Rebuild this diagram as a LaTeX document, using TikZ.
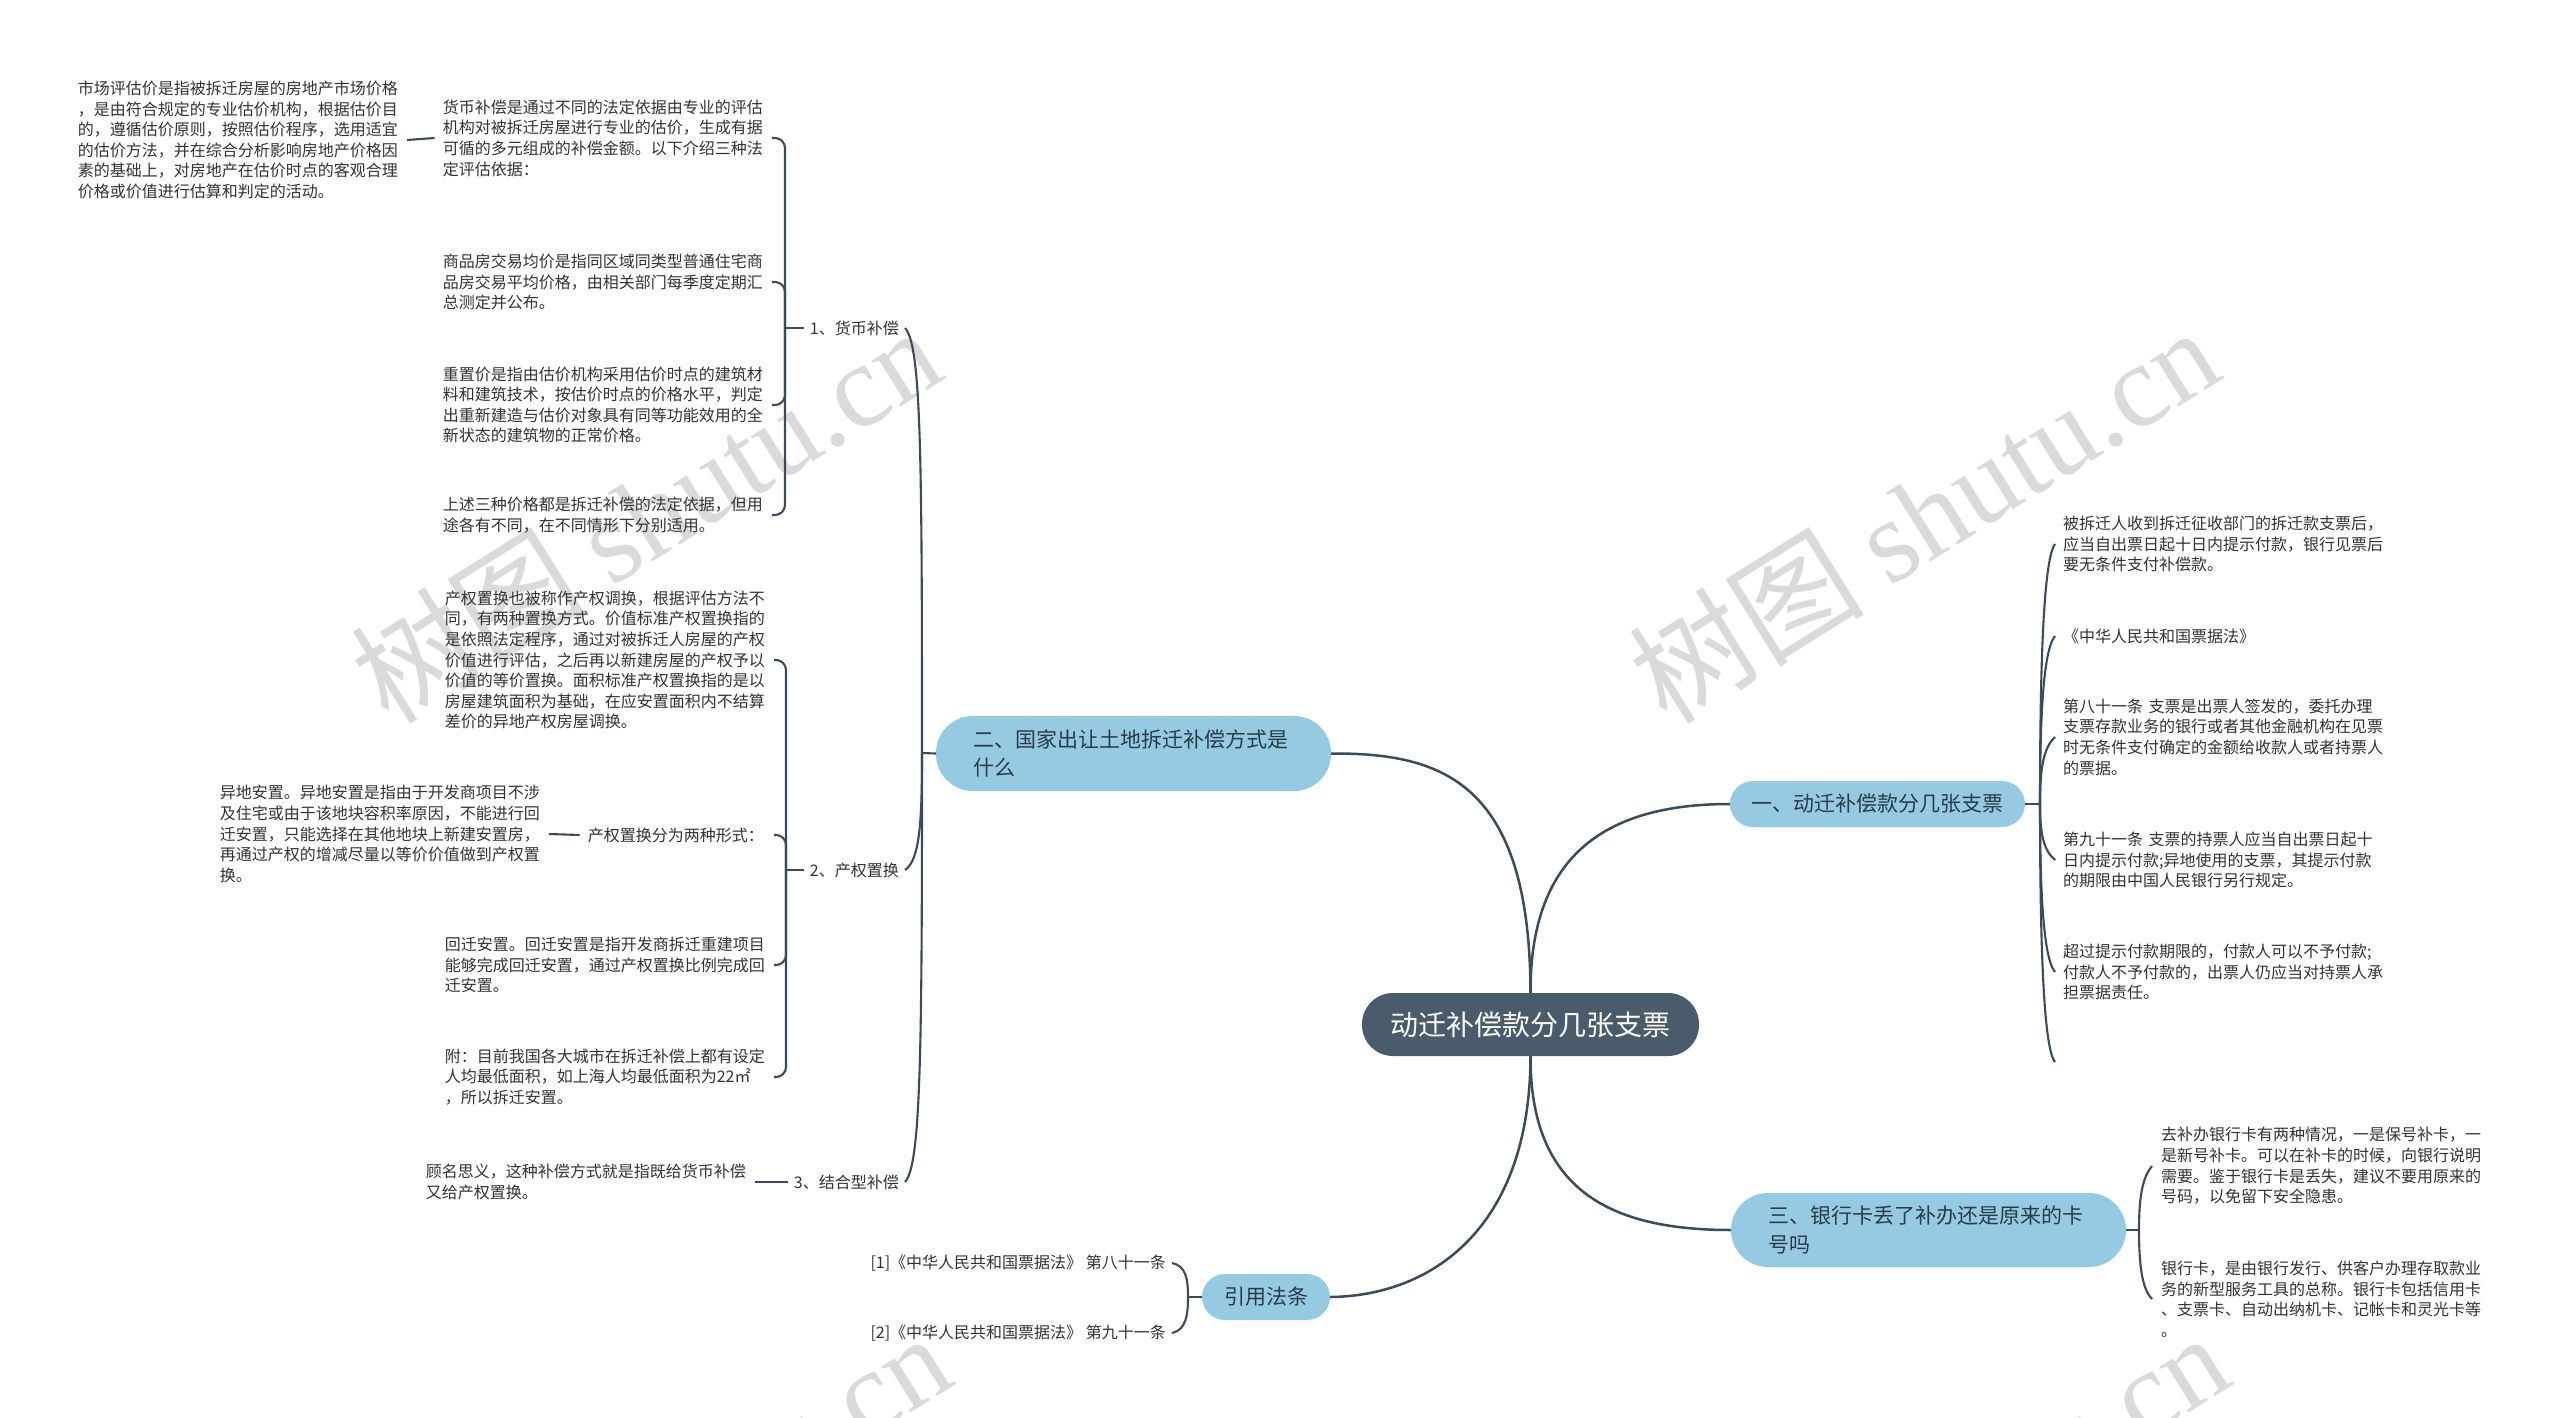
\documentclass[tikz,border=0pt]{standalone}
\usepackage{fontspec}
\setmainfont{Noto Sans CJK SC}
\newfontfamily\wmserif{Liberation Serif}
\definecolor{lineC}{HTML}{3B4B5A}
\definecolor{centerC}{HTML}{4A5B6B}
\definecolor{blueC}{HTML}{96CAE2}
\definecolor{txtC}{HTML}{333333}
\definecolor{topicTxt}{HTML}{2B3A48}
\definecolor{wmC}{HTML}{DADADA}
\begin{document}
\begin{tikzpicture}[x=1pt,y=-1pt,
  conn/.style={draw=lineC,line width=2.1pt},
  mainconn/.style={draw=lineC,line width=2.5pt},
  leafL/.style={anchor=east,inner xsep=8pt,inner ysep=2pt,align=left,text width=#1,text=txtC,font=\fontsize{16}{20.6}\selectfont},
  leafL/.default=321pt,
  leafR/.style={anchor=west,inner xsep=8pt,inner ysep=2pt,align=left,text width=340pt,text=txtC,font=\fontsize{16}{20.6}\selectfont},
  lbl/.style={anchor=east,inner xsep=6pt,text=txtC,font=\fontsize{16}{20.6}\selectfont},
  topic/.style={fill=blueC,rounded corners=#1,text=topicTxt,font=\fontsize{21}{28.3}\selectfont,inner sep=0pt},
  wm/.style={text=wmC,font=\fontsize{118}{118}\selectfont,inner sep=0pt},
]
\useasboundingbox (0,0) rectangle (2560,1418);
\fill[white] (0,0) rectangle (2560,1418);

% watermarks
\begin{scope}
\clip (0,0) rectangle (2560,1418);
\node[wm,rotate=32] (w1) at (645,514) {树图 {\wmserif shutu.cn}};
\node[wm,rotate=32] (w2) at (1923,514) {树图 {\wmserif shutu.cn}};
\node[wm,rotate=32] (w3) at (655,1520) {树图 {\wmserif shutu.cn}};
\node[wm,rotate=32] (w4) at (1933,1520) {树图 {\wmserif shutu.cn}};
\end{scope}

% central node and main topics
\node[fill=centerC,rounded corners=31pt,minimum width=337pt,minimum height=63pt,inner sep=0pt,text=white,font=\fontsize{28}{32}\selectfont] (c0) at (1530.5,1024.5) {动迁补偿款分几张支票};
\node[topic=23pt,minimum width=295pt,minimum height=46pt] (n1) at (1877.5,804) {一、动迁补偿款分几张支票};
\node[topic=37pt,minimum height=75pt,inner xsep=37pt,text width=321pt,align=left] (n2) at (1133.5,753.5) {二、国家出让土地拆迁补偿方式是\\什么};
\node[topic=37pt,minimum height=74pt,inner xsep=37pt,text width=321pt,align=left] (n3) at (1928.5,1230) {三、银行卡丢了补办还是原来的卡\\号吗};
\node[topic=23pt,minimum width=128pt,minimum height=46pt] (n4) at (1266,1297) {引用法条};

\draw[mainconn] (c0.north) .. controls (1530,860) and (1600,804) .. (n1.west);
\draw[mainconn] (c0.north) .. controls (1530,780) and (1440,753) .. (n2.east);
\draw[mainconn] (c0.south) .. controls (1530,1190) and (1610,1230) .. (n3.west);
\draw[mainconn] (c0.south) .. controls (1530,1230) and (1430,1296) .. (n4.east);

% ---------- left: topic 二 ----------
\node[lbl] (b1) at (905,328) {1、货币补偿};
\node[lbl] (b2) at (905,870) {2、产权置换};
\node[lbl] (b3) at (905,1182) {3、结合型补偿};
\coordinate (t2) at (922,753);
\draw[conn] (n2.west) -- (t2);
\draw[conn] (t2) .. controls (922,450) and (921,345) .. (b1.east);
\draw[conn] (t2) .. controls (922,820) and (920,860) .. (b2.east);
\draw[conn] (t2) .. controls (922,1050) and (921,1165) .. (b3.east);

% branch 1
\node[leafL] (c1a) at (772,138) {货币补偿是通过不同的法定依据由专业的评估\\机构对被拆迁房屋进行专业的估价，生成有据\\可循的多元组成的补偿金额。以下介绍三种法\\定评估依据：};
\node[leafL] (m1) at (407,140) {市场评估价是指被拆迁房屋的房地产市场价格\\，是由符合规定的专业估价机构，根据估价目\\的，遵循估价原则，按照估价程序，选用适宜\\的估价方法，并在综合分析影响房地产价格因\\素的基础上，对房地产在估价时点的客观合理\\价格或价值进行估算和判定的活动。};
\node[leafL] (c1b) at (772,282) {商品房交易均价是指同区域同类型普通住宅商\\品房交易平均价格，由相关部门每季度定期汇\\总测定并公布。};
\node[leafL] (c1c) at (772,405) {重置价是指由估价机构采用估价时点的建筑材\\料和建筑技术，按估价时点的价格水平，判定\\出重新建造与估价对象具有同等功能效用的全\\新状态的建筑物的正常价格。};
\node[leafL] (c1d) at (772,515) {上述三种价格都是拆迁补偿的法定依据，但用\\途各有不同，在不同情形下分别适用。};
\coordinate (j1) at (785,328);
\draw[conn] (b1.west) -- (j1);
\draw[conn,rounded corners=10pt] (j1) |- (c1a.east);
\draw[conn,rounded corners=10pt] (j1) |- (c1b.east);
\draw[conn,rounded corners=10pt] (j1) |- (c1c.east);
\draw[conn,rounded corners=10pt] (j1) |- (c1d.east);
\draw[conn] (c1a.west) -- (m1.east);

% branch 2
\node[leafL] (c2a) at (774,660) {产权置换也被称作产权调换，根据评估方法不\\同，有两种置换方式。价值标准产权置换指的\\是依照法定程序，通过对被拆迁人房屋的产权\\价值进行评估，之后再以新建房屋的产权予以\\价值的等价置换。面积标准产权置换指的是以\\房屋建筑面积为基础，在应安置面积内不结算\\差价的异地产权房屋调换。};
\node[leafL=178pt] (c2b) at (774,835) {产权置换分为两种形式：};
\node[leafL] (g1) at (549,834) {异地安置。异地安置是指由于开发商项目不涉\\及住宅或由于该地块容积率原因，不能进行回\\迁安置，只能选择在其他地块上新建安置房，\\再通过产权的增减尽量以等价价值做到产权置\\换。};
\node[leafL] (c2c) at (774,965) {回迁安置。回迁安置是指开发商拆迁重建项目\\能够完成回迁安置，通过产权置换比例完成回\\迁安置。};
\node[leafL] (c2d) at (774,1077) {附：目前我国各大城市在拆迁补偿上都有设定\\人均最低面积，如上海人均最低面积为22㎡\\，所以拆迁安置。};
\coordinate (j2) at (786,870);
\draw[conn] (b2.west) -- (j2);
\draw[conn,rounded corners=10pt] (j2) |- (c2a.east);
\draw[conn,rounded corners=10pt] (j2) |- (c2b.east);
\draw[conn,rounded corners=10pt] (j2) |- (c2c.east);
\draw[conn,rounded corners=10pt] (j2) |- (c2d.east);
\draw[conn] (c2b.west) -- (g1.east);

% branch 3
\node[leafL] (c3a) at (755,1182) {顾名思义，这种补偿方式就是指既给货币补偿\\又给产权置换。};
\draw[conn] (b3.west) -- (c3a.east);

% ---------- right: topic 一 ----------
\node[leafR] (r1a) at (2055,544) {被拆迁人收到拆迁征收部门的拆迁款支票后，\\应当自出票日起十日内提示付款，银行见票后\\要无条件支付补偿款。};
\node[leafR] (r1b) at (2055,636) {《中华人民共和国票据法》};
\node[leafR] (r1c) at (2055,737) {第八十一条 支票是出票人签发的，委托办理\\支票存款业务的银行或者其他金融机构在见票\\时无条件支付确定的金额给收款人或者持票人\\的票据。};
\node[leafR] (r1d) at (2055,860) {第九十一条 支票的持票人应当自出票日起十\\日内提示付款;异地使用的支票，其提示付款\\的期限由中国人民银行另行规定。};
\node[leafR] (r1e) at (2055,972) {超过提示付款期限的，付款人可以不予付款;\\付款人不予付款的，出票人仍应当对持票人承\\担票据责任。};
\coordinate (r1f) at (2055,1062);
\coordinate (j4) at (2040,804);
\draw[conn] (n1.east) -- (j4);
\draw[conn] (j4) .. controls (2040,674) and (2043,560) .. (r1a.west);
\draw[conn] (j4) .. controls (2040,720) and (2043,650) .. (r1b.west);
\draw[conn] (j4) .. controls (2040,770) and (2043,748) .. (r1c.west);
\draw[conn] (j4) .. controls (2040,832) and (2043,850) .. (r1d.west);
\draw[conn] (j4) .. controls (2040,888) and (2043,958) .. (r1e.west);
\draw[conn] (j4) .. controls (2040,933) and (2043,1048) .. (r1f);

% ---------- right: topic 三 ----------
\node[leafR,inner xsep=9pt] (r3a) at (2152,1166) {去补办银行卡有两种情况，一是保号补卡，一\\是新号补卡。可以在补卡的时候，向银行说明\\需要。鉴于银行卡是丢失，建议不要用原来的\\号码，以免留下安全隐患。};
\node[leafR,inner xsep=9pt] (r3b) at (2152,1299) {银行卡，是由银行发行、供客户办理存取款业\\务的新型服务工具的总称。银行卡包括信用卡\\、支票卡、自动出纳机卡、记帐卡和灵光卡等\\。};
\coordinate (j5) at (2139,1230);
\draw[conn] (n3.east) -- (j5);
\draw[conn] (j5) .. controls (2139,1198) and (2142,1178) .. (r3a.west);
\draw[conn] (j5) .. controls (2139,1265) and (2142,1289) .. (r3b.west);

% ---------- 引用法条 ----------
\node[lbl] (q1) at (1172,1263) {[1]《中华人民共和国票据法》 第八十一条};
\node[lbl] (q2) at (1172,1333) {[2]《中华人民共和国票据法》 第九十一条};
\coordinate (j6) at (1188,1297);
\draw[conn] (n4.west) -- (j6);
\draw[conn] (j6) .. controls (1188,1279) and (1186,1266) .. (q1.east);
\draw[conn] (j6) .. controls (1188,1315) and (1186,1330) .. (q2.east);
\end{tikzpicture}
\end{document}
